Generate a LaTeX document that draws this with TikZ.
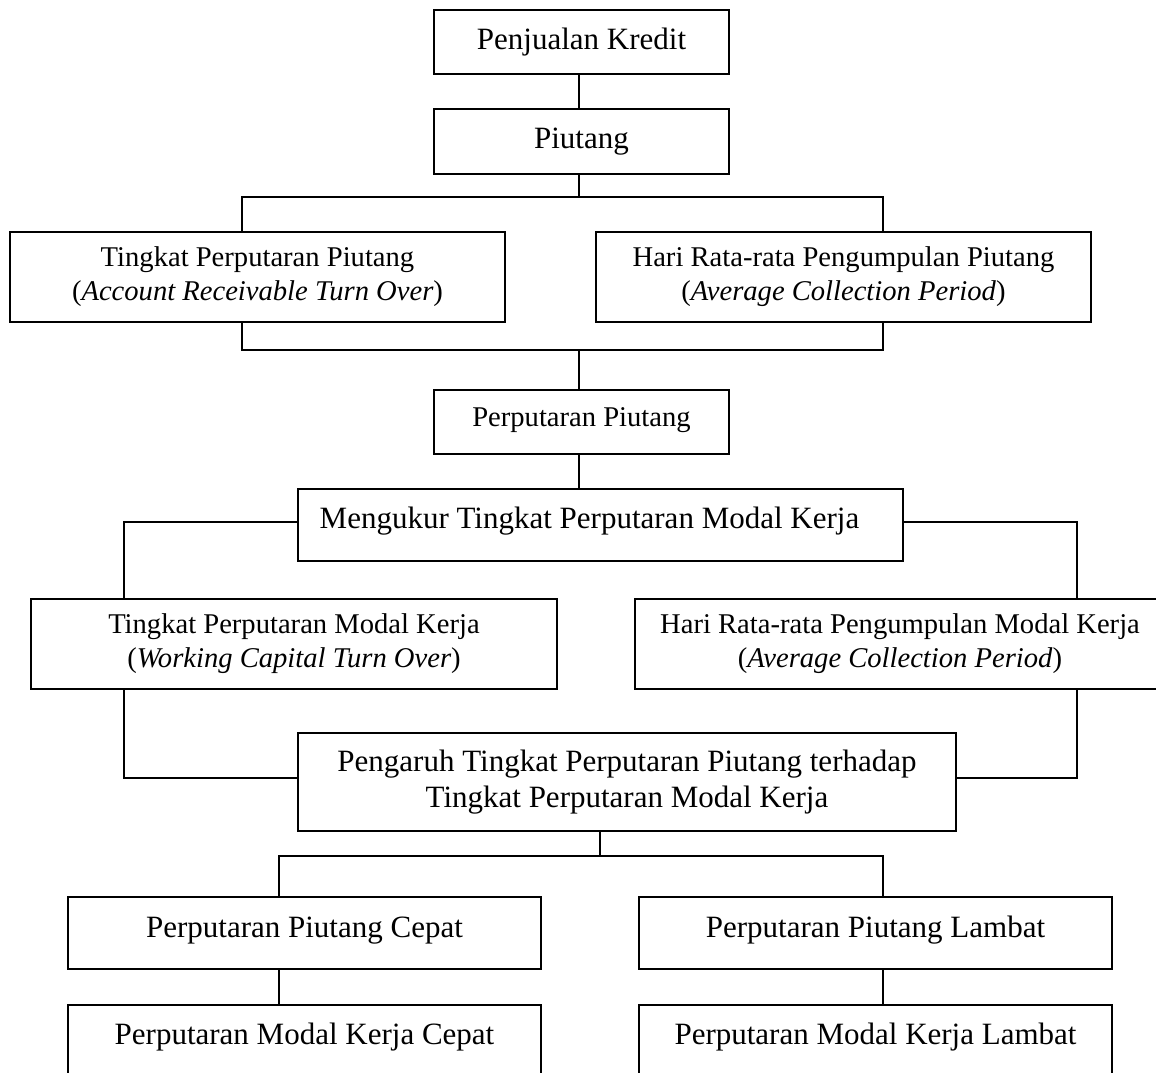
\documentclass[tikz,border=0pt]{standalone}
\usepackage{fontspec}
\setmainfont{Liberation Serif}
\begin{document}
\begin{tikzpicture}[x=1pt,y=-1pt,
  box/.style={draw, line width=2pt, rectangle, inner sep=0pt, align=center},
  big/.style={font=\fontsize{31}{36}\selectfont},
  small/.style={font=\fontsize{28.6}{34}\selectfont},
  conn/.style={line width=1.6pt}]
\useasboundingbox (0,0) rectangle (1156,1072);
\clip (0,0) rectangle (1156,1072);

% boxes
\node[box,big,minimum width=295pt,minimum height=64pt,text height=21pt,text depth=7pt] (pk) at (581.5,42) {Penjualan Kredit};
\node[box,big,minimum width=295pt,minimum height=65pt,text height=21pt,text depth=8pt] (pi) at (581.5,141.5) {Piutang};
\node[box,small,minimum width=495pt,minimum height=90pt] (tpp) at (257.5,277) {Tingkat Perputaran Piutang\\(\textit{Account Receivable Turn Over})};
\node[box,small,minimum width=495pt,minimum height=90pt] (hrp) at (843.5,277) {Hari Rata-rata Pengumpulan Piutang\\(\textit{Average Collection Period})};
\node[box,small,minimum width=295pt,minimum height=64pt,text height=19pt,text depth=11pt] (pp) at (581.5,422) {Perputaran Piutang};
\node[box,big,minimum width=605pt,minimum height=72pt,text height=21pt,text depth=15pt] (mk) at (600.5,525) {Mengukur Tingkat Perputaran Modal Kerja\hspace*{22pt}};
\node[box,small,minimum width=526pt,minimum height=90pt] (tmk) at (294,644) {Tingkat Perputaran Modal Kerja\\(\textit{Working Capital Turn Over})};
\node[box,small,minimum width=530pt,minimum height=90pt] (hmk) at (900,644) {Hari Rata-rata Pengumpulan Modal Kerja\\(\textit{Average Collection Period})};
\node[box,big,minimum width=658pt,minimum height=98pt] (pg) at (627,782) {Pengaruh Tingkat Perputaran Piutang terhadap\\Tingkat Perputaran Modal Kerja};
\node[box,big,minimum width=473pt,minimum height=72pt,text height=21pt,text depth=13pt] (pc) at (304.5,933) {Perputaran Piutang Cepat};
\node[box,big,minimum width=473pt,minimum height=72pt,text height=21pt,text depth=13pt] (pl) at (875.5,933) {Perputaran Piutang Lambat};
\node[box,big,minimum width=473pt,minimum height=80pt,text height=21pt,text depth=23pt] (mc) at (304.5,1045) {Perputaran Modal Kerja Cepat};
\node[box,big,minimum width=473pt,minimum height=80pt,text height=21pt,text depth=23pt] (ml) at (875.5,1045) {Perputaran Modal Kerja Lambat};

% junction points
\coordinate (c0) at (579,0);
\coordinate (jL) at (242,197);
\coordinate (jR) at (883,197);
\coordinate (kL) at (242,350);
\coordinate (kR) at (883,350);
\coordinate (mL) at (124,522);
\coordinate (mR) at (1077,522);
\coordinate (nL) at (124,778);
\coordinate (nR) at (1077,778);
\coordinate (qM) at (600,856);
\coordinate (qL) at (279,856);
\coordinate (qR) at (883,856);

% connectors
\draw[conn] (pk.south -| c0) -- (pi.north -| c0);
\draw[conn] (pi.south -| c0) -- (c0 |- jL);
\draw[conn] (tpp.north -| jL) -- (jL) -- (jR) -- (hrp.north -| jR);
\draw[conn] (tpp.south -| kL) -- (kL) -- (kR) -- (hrp.south -| kR);
\draw[conn] (c0 |- kL) -- (pp.north -| c0);
\draw[conn] (pp.south -| c0) -- (mk.north -| c0);
\draw[conn] (mk.west |- mL) -- (mL) -- (tmk.north -| mL);
\draw[conn] (mk.east |- mR) -- (mR) -- (hmk.north -| mR);
\draw[conn] (tmk.south -| nL) -- (nL) -- (pg.west |- nL);
\draw[conn] (hmk.south -| nR) -- (nR) -- (pg.east |- nR);
\draw[conn] (pg.south -| qM) -- (qM);
\draw[conn] (pc.north -| qL) -- (qL) -- (qR) -- (pl.north -| qR);
\draw[conn] (pc.south -| qL) -- (mc.north -| qL);
\draw[conn] (pl.south -| qR) -- (ml.north -| qR);
\end{tikzpicture}
\end{document}
